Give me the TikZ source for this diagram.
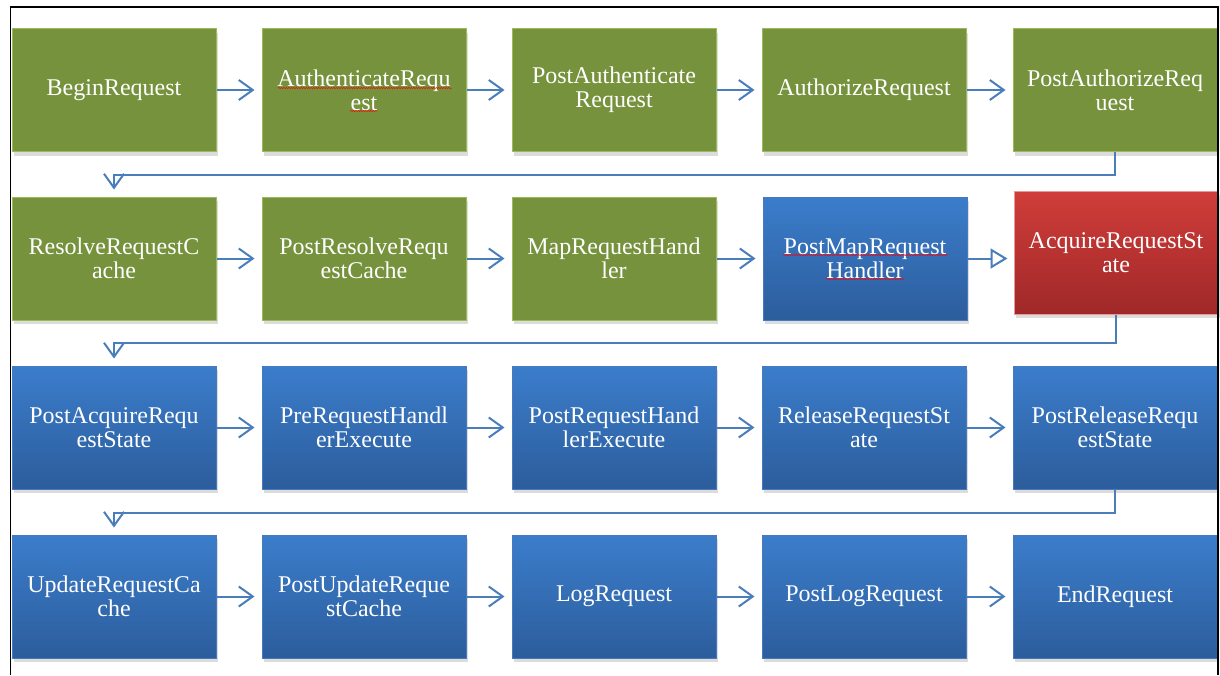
\documentclass[tikz,border=0pt]{standalone}
\usepackage{fontspec}
\setmainfont{Liberation Serif}
\usetikzlibrary{arrows.meta,shadows,decorations.pathmorphing}
\definecolor{flowblue}{HTML}{4A7EBB}
\definecolor{olivefill}{HTML}{76923C}
\definecolor{olivebrd}{HTML}{9BBB59}
\definecolor{bluetop}{HTML}{3B7DCB}
\definecolor{bluebot}{HTML}{2C5D9C}
\definecolor{bluebrd}{HTML}{4679BD}
\definecolor{redtop}{HTML}{D03D39}
\definecolor{redbot}{HTML}{A02829}
\definecolor{redbrd}{HTML}{E39A98}
\begin{document}
\begin{tikzpicture}[x=1pt,y=1pt,
  stage/.style={minimum width=204pt,minimum height=123pt,inner sep=0pt,
    text=white,align=center,font=\fontsize{24}{24}\selectfont,line width=1pt,
    drop shadow={shadow xshift=2pt,shadow yshift=-4pt,opacity=0.28}},
  greenstage/.style={stage,fill=olivefill,draw=olivebrd},
  bluestage/.style={stage,top color=bluetop,bottom color=bluebot,draw=bluebrd},
  redstage/.style={stage,top color=redtop,bottom color=redbot,draw=redbrd},
  flow/.style={draw=flowblue,line width=2pt,
    -{Straight Barb[length=14pt,width=20pt,line width=2pt]},shorten >=7pt},
  openflow/.style={draw=flowblue,line width=2pt,
    -{Triangle[open,length=17pt,width=20pt,line width=2pt]},shorten >=6pt},
  squig/.style={draw=red,line width=0.5pt,
    decorate,decoration={snake,amplitude=0.6pt,segment length=2.5pt}}]
\useasboundingbox (0,0) rectangle (1220,-675);

% row 1
\node[greenstage] (r1c1) at (114,-90) {BeginRequest};
\node[greenstage] (r1c2) at (364,-90) {AuthenticateRequ\\est};
\node[greenstage] (r1c3) at (614,-90) {PostAuthenticate\\Request};
\node[greenstage] (r1c4) at (864,-90) {AuthorizeRequest};
\node[greenstage] (r1c5) at (1115,-90) {PostAuthorizeReq\\uest};

% row 2
\node[greenstage] (r2c1) at (114,-258.5) {ResolveRequestC\\ache};
\node[greenstage] (r2c2) at (364,-258.5) {PostResolveRequ\\estCache};
\node[greenstage] (r2c3) at (614,-258.5) {MapRequestHand\\ler};
\node[bluestage]  (r2c4) at (865,-258.5) {PostMapRequest\\Handler};
\node[redstage]   (r2c5) at (1116,-252.5) {AcquireRequestSt\\ate};

% row 3
\node[bluestage] (r3c1) at (114,-427.5) {PostAcquireRequ\\estState};
\node[bluestage] (r3c2) at (364,-427.5) {PreRequestHandl\\erExecute};
\node[bluestage] (r3c3) at (614,-427.5) {PostRequestHand\\lerExecute};
\node[bluestage] (r3c4) at (864,-427.5) {ReleaseRequestSt\\ate};
\node[bluestage] (r3c5) at (1115,-427.5) {PostReleaseRequ\\estState};

% row 4
\node[bluestage] (r4c1) at (114,-596.5) {UpdateRequestCa\\che};
\node[bluestage] (r4c2) at (364,-596.5) {PostUpdateReque\\stCache};
\node[bluestage] (r4c3) at (614,-596.5) {LogRequest};
\node[bluestage] (r4c4) at (864,-596.5) {PostLogRequest};
\node[bluestage] (r4c5) at (1115,-596.5) {EndRequest};

% spelling marks under two labels
\draw[squig] ([shift={(-86,2)}]r1c2.center) -- ([shift={(88,2)}]r1c2.center);
\draw[squig] ([shift={(-14,-21)}]r1c2.center) -- ([shift={(13,-21)}]r1c2.center);
\draw[squig] ([shift={(-82,3.5)}]r2c4.center) -- ([shift={(83,3.5)}]r2c4.center);
\draw[squig] ([shift={(-39,-20.5)}]r2c4.center) -- ([shift={(39,-20.5)}]r2c4.center);

% steps within a row
\foreach \r in {1,3,4}{
  \foreach \a/\b in {1/2,2/3,3/4,4/5}{
    \draw[flow] (r\r c\a.east) -- (r\r c\a.east -| r\r c\b.west);
  }
}
\foreach \a/\b in {1/2,2/3,3/4}{
  \draw[flow] (r2c\a.east) -- (r2c\a.east -| r2c\b.west);
}
\draw[openflow] (r2c4.east) -- (r2c4.east -| r2c5.west);

% wrap to the next row
\draw[flow] (r1c5.south) -- ++(0,-23) -| (r2c1.north);
\draw[flow] (r2c5.south) -- ++(0,-28) -| (r3c1.north);
\draw[flow] (r3c5.south) -- ++(0,-23) -| (r4c1.north);

% frame
\draw[line width=1.5pt] (10.5,-675) -- (10.5,-7) -- (1218,-7) -- (1218,-675);
\end{tikzpicture}
\end{document}
